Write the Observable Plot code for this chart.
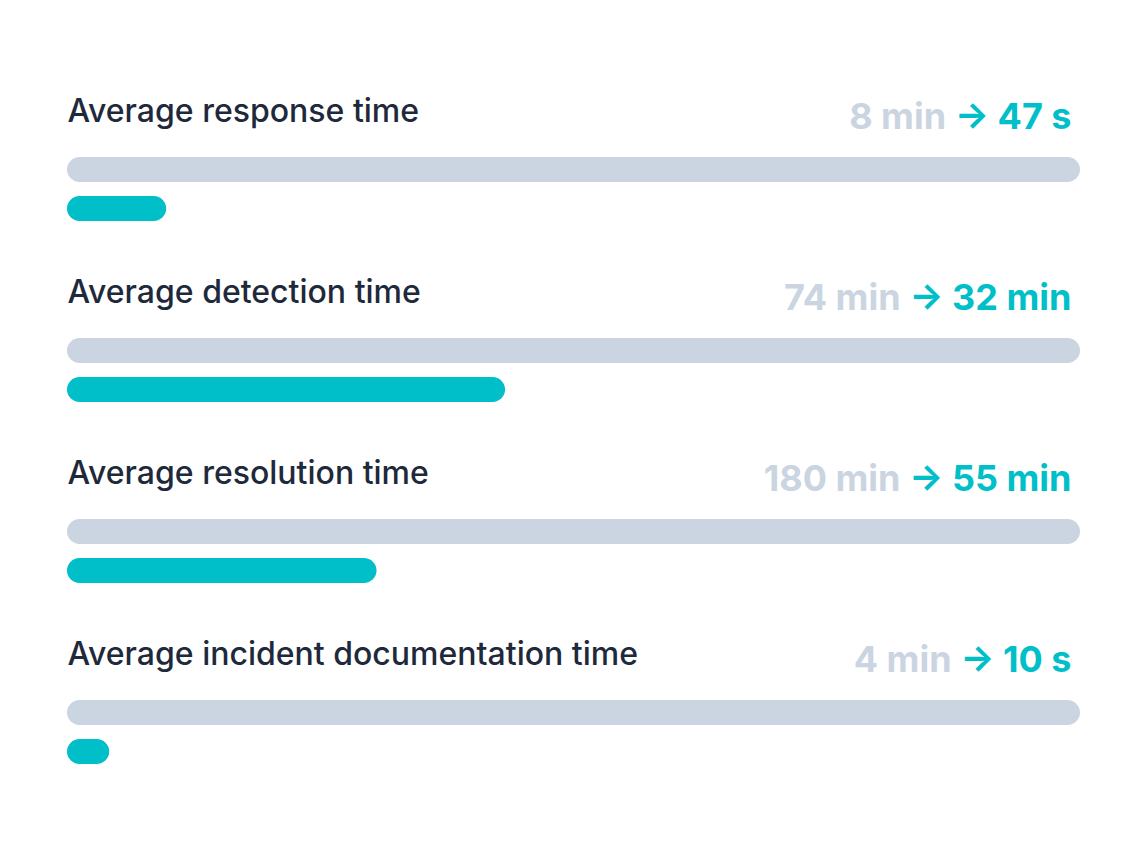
<!DOCTYPE html>
<html>
<head>
<meta charset="utf-8">
<script src="https://cdn.jsdelivr.net/npm/d3@7"></script>
<script src="https://cdn.jsdelivr.net/npm/@observablehq/plot@0.6"></script>
<style>
  html, body { margin: 0; padding: 0; background: #ffffff; }
  #chart svg { display: block; }
</style>
</head>
<body>
<div id="chart"></div>
<script>
const metrics = [
  "Average response time",
  "Average detection time",
  "Average resolution time",
  "Average incident documentation time"
];
const beforeLabels = ["8 min", "74 min", "180 min", "4 min"];
const afterLabels = ["47 s", "32 min", "55 min", "10 s"];
const beforeSeconds = [480, 4440, 10800, 240];
const afterSeconds = [47, 1920, 3300, 10];

const GRAY = "#cbd5e1";
const TEAL = "#00bfc8";
const INK = "#1e293b";

const rows = metrics.map((m, i) => ({
  i,
  metric: m,
  before: beforeLabels[i],
  after: afterLabels[i],
  beforeRatio: 1,
  afterRatio: afterSeconds[i] / beforeSeconds[i]
}));

const plot = Plot.plot({
  width: 1145,
  height: 856,
  marginTop: 80,
  marginBottom: 50,
  marginLeft: 0,
  marginRight: 0,
  style: { fontFamily: "Inter, 'Noto Sans', sans-serif", background: "#ffffff" },
  x: { domain: [0, 1], range: [67, 1080], axis: null },
  y: { type: "band", domain: rows.map(d => d.i), padding: 0, axis: null },
  marks: [
    Plot.barX(rows, { x1: 0, x2: "beforeRatio", y: "i", fill: GRAY, insetTop: 76, insetBottom: 80, rx: 12.5 }),
    Plot.barX(rows, { x1: 0, x2: "afterRatio", y: "i", fill: TEAL, insetTop: 115, insetBottom: 41, rx: 12.5 }),
    Plot.text(rows, { x: 0, y: "i", text: "metric", textAnchor: "start", dy: -60, fill: INK, fontSize: 32, fontWeight: 500 }),
    Plot.text(rows, { x: 1, y: "i", text: d => d.before + " → " + d.after, textAnchor: "end", dx: -9, dy: -55, fontSize: 36, fontWeight: 700, fill: TEAL, className: "vals" })
  ]
});

document.getElementById("chart").appendChild(plot);

// split the value text into a grey "before" part and teal "after" part
const valTexts = plot.querySelectorAll("g.vals text");
valTexts.forEach((t, k) => {
  const d = rows[k];
  t.textContent = "";
  const ns = "http://www.w3.org/2000/svg";
  const a = document.createElementNS(ns, "tspan");
  a.setAttribute("fill", GRAY);
  a.textContent = d.before + " ";
  const b = document.createElementNS(ns, "tspan");
  b.setAttribute("fill", TEAL);
  b.textContent = "→ " + d.after;
  t.appendChild(a);
  t.appendChild(b);
});
</script>
</body>
</html>
